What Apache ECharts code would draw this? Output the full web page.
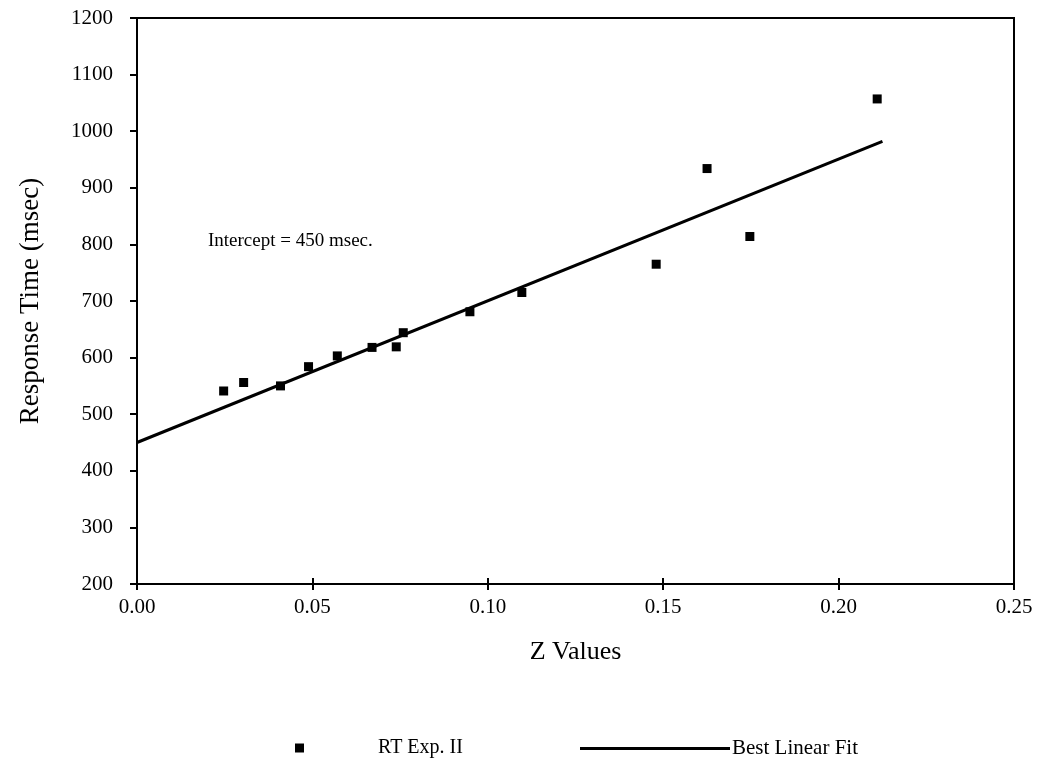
<!DOCTYPE html>
<html>
<head>
<meta charset="utf-8">
<script src="https://cdn.jsdelivr.net/npm/echarts@6/dist/echarts.min.js"></script>
<style>
  html, body { margin: 0; padding: 0; background: #fff; }
  #chart { width: 1045px; height: 775px; }
</style>
</head>
<body>
<div id="chart"></div>
<script>
// RT Exp. II - observed points (z value, response time)
const zValues = [0.0247, 0.0304, 0.0409, 0.0489, 0.0571, 0.0670, 0.0739, 0.0759, 0.0949, 0.1097, 0.1480, 0.1625, 0.1747, 0.2110]
const rtValues = [541, 556, 550, 584, 603, 618, 619, 644, 681, 715, 765, 934, 814, 1057]
// best linear fit end points
const fitZ = [0, 0.2125]
const fitRT = [450, 982]
const xTicks = [0, 0.05, 0.10, 0.15, 0.20, 0.25]
const yTicks = [200, 300, 400, 500, 600, 700, 800, 900, 1000, 1100, 1200]

const font = '"Liberation Serif", "DejaVu Serif", serif'
const chart = echarts.init(document.getElementById('chart'))

const option = {
  animation: false,
  backgroundColor: '#fff',
  grid: {
    left: 137,
    right: 31,
    top: 18,
    bottom: 191,
    show: true,
    borderColor: '#000',
    borderWidth: 2
  },
  xAxis: [
    {
      type: 'value',
      min: xTicks[0],
      max: xTicks[xTicks.length - 1],
      interval: 0.05,
      name: 'Z Values',
      nameLocation: 'middle',
      nameGap: 55,
      nameTextStyle: { fontFamily: font, fontSize: 26, color: '#000' },
      axisLine: { lineStyle: { color: '#000', width: 2 } },
      axisTick: { show: true, length: 6, lineStyle: { color: '#000', width: 2 } },
      axisLabel: {
        fontFamily: font, fontSize: 21, color: '#000', margin: 13,
        formatter: v => v.toFixed(2)
      },
      splitLine: { show: false }
    },
    {
      // inner half of the crossing ticks
      type: 'value',
      position: 'bottom',
      min: xTicks[0],
      max: xTicks[xTicks.length - 1],
      interval: 0.05,
      axisLine: { show: false },
      axisTick: { show: true, inside: true, length: 6, lineStyle: { color: '#000', width: 2 } },
      axisLabel: { show: false },
      splitLine: { show: false }
    }
  ],
  yAxis: {
    type: 'value',
    min: yTicks[0],
    max: yTicks[yTicks.length - 1],
    interval: 100,
    name: 'Response Time (msec)',
    nameLocation: 'middle',
    nameGap: 93,
    nameTextStyle: { fontFamily: font, fontSize: 27, color: '#000' },
    axisLine: { show: true, lineStyle: { color: '#000', width: 2 } },
    axisTick: { show: true, length: 7, lineStyle: { color: '#000', width: 2 } },
    axisLabel: {
      fontFamily: font, fontSize: 21, color: '#000', margin: 24,
      formatter: v => String(v)
    },
    splitLine: { show: false }
  },
  legend: [
    {
      data: ['RT Exp. II'],
      left: 290,
      top: 733,
      itemWidth: 9,
      itemHeight: 9,
      icon: 'rect',
      textStyle: { fontFamily: font, fontSize: 20, color: '#000', padding: [0, 0, 0, 69] }
    },
    {
      data: ['Best Linear Fit'],
      left: 575,
      top: 733,
      itemWidth: 150,
      itemHeight: 3,
      icon: 'rect',
      textStyle: { fontFamily: font, fontSize: 21, color: '#000', padding: [0, 0, 0, -3] }
    }
  ],
  graphic: [
    {
      type: 'text',
      left: 208,
      top: 232,
      style: { text: 'Intercept = 450 msec.', fontFamily: font, fontSize: 19, fill: '#000' }
    }
  ],
  series: [
    {
      name: 'Best Linear Fit',
      type: 'line',
      data: fitZ.map((z, i) => [z, fitRT[i]]),
      symbol: 'none',
      lineStyle: { color: '#000', width: 3 },
      itemStyle: { color: '#000' }
    },
    {
      name: 'RT Exp. II',
      type: 'scatter',
      data: zValues.map((z, i) => [z, rtValues[i]]),
      symbol: 'rect',
      symbolSize: 9,
      itemStyle: { color: '#000', opacity: 1 }
    }
  ]
}

chart.setOption(option)
</script>
</body>
</html>
